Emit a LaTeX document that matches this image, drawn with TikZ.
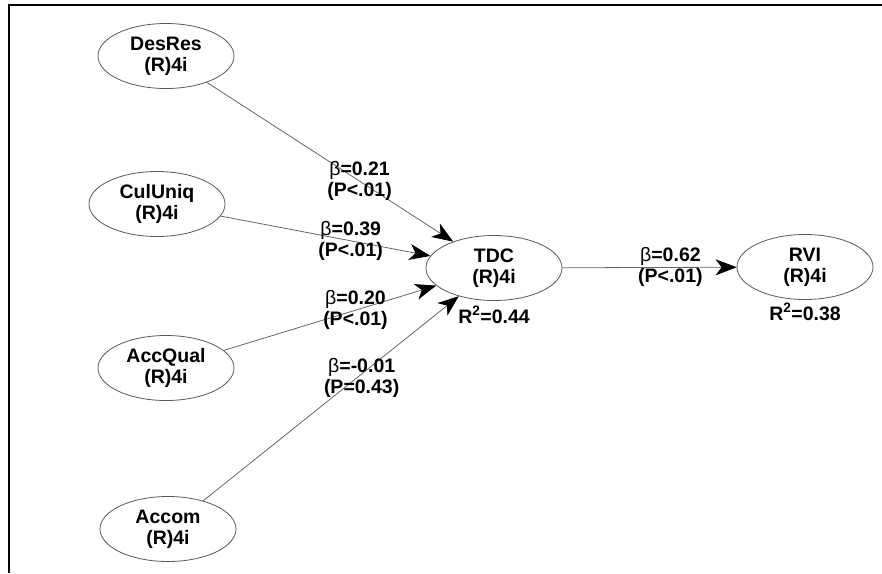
\documentclass[tikz,border=0pt]{standalone}
\usepackage{fontspec}
\setmainfont{Liberation Sans}
\usetikzlibrary{shapes.geometric, arrows.meta, positioning}

\tikzset{
	latent/.style={ellipse, draw=black!65, line width=.8pt, fill=white,
		minimum width=136pt, minimum height=65pt, inner sep=0pt, align=center,
		font=\fontsize{19.5}{21}\selectfont\bfseries},
	link/.style={draw=black!60, line width=.8pt,
		-{Stealth[length=21pt, width=16pt, inset=6pt, color=black]}},
	coef/.style={align=center, pos=.62, inner sep=1pt,
		font=\fontsize{19.5}{21}\selectfont\bfseries},
	rsq/.style={inner sep=2pt, font=\fontsize{19.5}{21}\selectfont\bfseries}
}

\begin{document}
\begin{tikzpicture}[x=1pt, y=-1pt]
	\def\b{{\mdseries β}}	% path coefficient sign
	\def\ind{(R)4i}		% indicator line

	\useasboundingbox (0,0) rectangle (882,573);

	% Frame (top and left only)
	\draw[line width=2pt] (8.5,573) -- (8.5,4.5) -- (882,4.5);

	% Exogenous constructs
	\node[latent] (desres)  at (166,56)  {DesRes\\\ind};
	\node[latent] (culuniq) at (157,204) {CulUniq\\\ind};
	\node[latent] (accqual) at (166,368) {AccQual\\\ind};
	\node[latent] (accom)   at (168,529) {Accom\\\ind};

	% Endogenous constructs
	\node[latent] (tdc) at (494,268) {TDC\\\ind};
	\node[latent] (rvi) at (805,267) {RVI\\\ind};
	\node[rsq, below=3pt of tdc] (tdcr) {R\textsuperscript{2}=0.44};
	\node[rsq, below=1pt of rvi] (rvir) {R\textsuperscript{2}=0.38};

	% Paths
	\draw[link] (desres)  -- node[coef] (c1) {\b=0.21\\(P<.01)} (tdc);
	\draw[link] (culuniq) -- node[coef] (c2) {\b=0.39\\(P<.01)} (tdc);
	\draw[link] (accqual) -- node[coef] (c3) {\b=0.20\\(P<.01)} (tdc);
	\draw[link] (accom)   -- node[coef, yshift=-4pt] (c4) {\b=-0.01\\(P=0.43)} (tdc);
	\draw[link] (tdc)     -- node[coef] (c5) {\b=0.62\\(P<.01)} (rvi);
\end{tikzpicture}
\end{document}
